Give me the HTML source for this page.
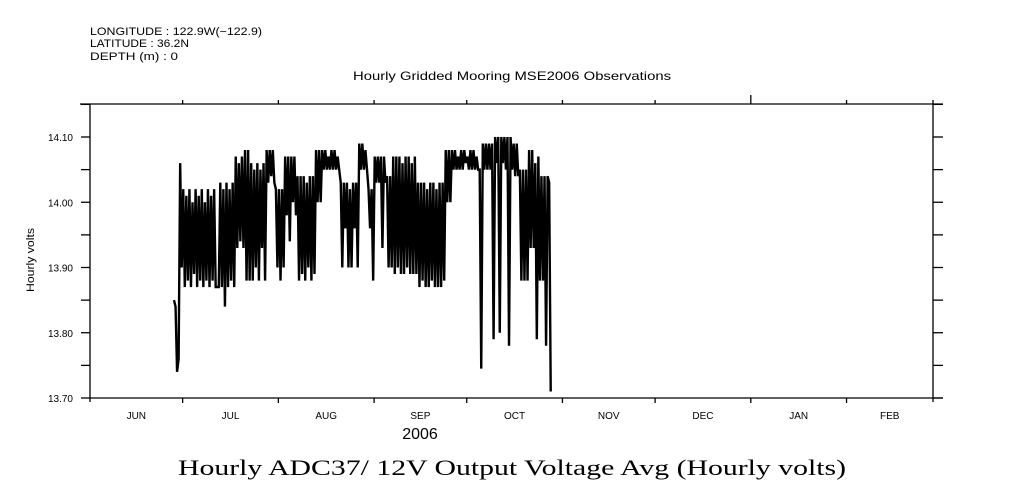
<!DOCTYPE html>
<html><head><meta charset="utf-8"><style>
html,body{margin:0;padding:0;background:#fff;}
svg{display:block;}
text{font-family:"Liberation Sans",sans-serif;fill:#000;}
</style></head><body>
<svg id="chart" width="1009" height="504" viewBox="0 0 1009 504">
<text x="90" y="35" font-size="11" textLength="172" lengthAdjust="spacingAndGlyphs">LONGITUDE : 122.9W(−122.9)</text>
<text x="90" y="47" font-size="11" textLength="99" lengthAdjust="spacingAndGlyphs">LATITUDE : 36.2N</text>
<text x="90" y="60" font-size="11" textLength="88" lengthAdjust="spacingAndGlyphs">DEPTH (m) : 0</text>
<text x="353" y="80" font-size="12" textLength="318" lengthAdjust="spacingAndGlyphs">Hourly Gridded Mooring MSE2006 Observations</text>
<text transform="translate(34,260) rotate(-90)" font-size="11" text-anchor="middle" textLength="64" lengthAdjust="spacingAndGlyphs">Hourly volts</text>
<text x="420" y="439" font-size="16" text-anchor="middle">2006</text>
<text x="178" y="475" font-size="22" textLength="668" lengthAdjust="spacingAndGlyphs" style="font-family:'Liberation Serif',serif">Hourly ADC37/ 12V Output Voltage Avg (Hourly volts)</text>
<g id="axes"></g>
<path id="series" fill="none" stroke="#000" stroke-width="2.4" stroke-linejoin="miter"></path>
</svg>
<script>
const months = ["JUN","JUL","AUG","SEP","OCT","NOV","DEC","JAN","FEB"];
const monthDays = [30,31,31,30,31,30,31,31,28];
const yTicks = [13.70,13.80,13.90,14.00,14.10];
const yTickLabels = ["13.70","13.80","13.90","14.00","14.10"];
const startDay = 27.2; // days since Jun 1 of first sample
const sampleStep = 0.5; // days between samples
const volts = [
13.85,13.84,13.74,13.76,14.06,13.90,
14.02,13.87,14.01,13.88,14.02,13.87,14.00,13.89,14.02,13.87,14.01,13.88,14.02,13.87,14.00,13.88,14.02,13.87,14.01,13.88,14.02,13.87,
13.87,13.87,
14.03,13.87,14.02,13.84,14.03,13.87,14.02,13.88,14.03,13.87,
14.07,13.93,14.06,13.94,14.07,13.93,
14.08,13.88,14.08,13.88,
14.06,13.88,14.05,13.90,14.06,13.88,14.05,13.93,14.06,13.88,
14.08,14.03,14.08,14.04,14.08,14.03,
14.02,13.90,14.02,13.88,14.02,13.90,
14.07,13.98,14.07,13.94,14.07,14.00,14.07,13.98,
14.04,13.88,14.04,13.89,14.04,13.88,14.03,13.90,14.04,13.88,14.04,13.89,
14.08,14.00,14.08,14.00,
14.08,14.05,14.08,14.05,14.07,14.05,14.08,14.05,14.08,14.05,14.07,14.05,
14.03,13.90,14.03,13.96,14.03,13.90,14.02,13.90,14.03,13.96,14.03,13.90,
14.09,14.05,14.09,14.05,14.08,14.05,
14.02,13.96,14.02,13.88,
14.07,14.03,14.07,14.03,14.07,13.93,14.07,14.03,
14.04,13.90,14.04,13.90,
14.07,13.89,14.07,13.90,14.07,13.89,14.06,13.89,14.07,13.90,14.07,13.89,14.06,13.89,14.07,13.89,
14.03,13.87,14.03,13.88,14.03,13.87,14.02,13.87,14.03,13.88,14.03,13.87,14.02,13.87,14.03,13.87,14.03,13.88,
14.08,14.00,14.08,14.00,
14.08,14.05,14.08,14.05,14.07,14.05,14.08,14.05,14.08,14.06,14.07,14.05,14.08,14.05,14.08,14.05,14.07,14.05,
14.05,13.745,
14.09,14.05,14.09,14.05,14.09,14.05,14.09,13.79,
14.10,14.06,14.10,13.80,14.10,14.06,
14.10,14.05,14.10,13.78,14.10,14.05,
14.09,14.04,14.09,14.04,
14.05,13.88,14.05,13.88,14.05,13.88,
14.08,13.93,14.08,13.93,
14.06,13.79,
14.07,13.88,
14.04,13.88,
14.04,13.78,
14.04,14.03,
13.71
];
const X0=90, X1=933, Y0=104, Y1=398;
const totalDays = monthDays.reduce((a,b)=>a+b,0);
const xScale = d => X0 + d/totalDays*(X1-X0);
const yScale = v => 398 - (v-13.70)/0.1*65.25;
const NS="http://www.w3.org/2000/svg";
const axes=document.getElementById('axes');
function line(x1,y1,x2,y2,name,w){
  const l=document.createElementNS(NS,'line');
  l.setAttribute('x1',x1);l.setAttribute('y1',y1);l.setAttribute('x2',x2);l.setAttribute('y2',y2);
  l.setAttribute('stroke','#000');l.setAttribute('stroke-width',w||1.3);
  
  
  axes.appendChild(l);
}
function txt(x,y,s,anchor,name){
  const t=document.createElementNS(NS,'text');
  t.setAttribute('x',x);t.setAttribute('y',y);t.setAttribute('font-size','10');t.setAttribute('text-anchor',anchor);
  t.textContent=s;
  
  
  axes.appendChild(t);
}
line(80,Y0,943,Y0,'top-axis');
line(X0,Y1,943,Y1,'x-axis');
line(X0,Y0,X0,Y1+4,'y-axis');
line(X1,Y0-4,X1,Y1+4,'right-axis');
for(let v=13.70; v<=14.151; v+=0.05){
  const y=yScale(v);
  line(81,y,X0,y,'y-tick');
  line(X1,y,943,y,'right-y-tick');
}
yTicks.forEach((v,i)=>txt(73,yScale(v)+4,yTickLabels[i],'end','y-tick-label'));
let cum=0;
months.forEach((m,i)=>{
  const xs=xScale(cum), xe=xScale(cum+monthDays[i]);
  if(i>0){
    line(xs,Y1,xs,Y1+5,'x-tick');
    line(xs,Y0,xs,Y0-(m==="JAN"?9:4),'top-x-tick');
  }
  txt((xs+xe)/2,419,m,'middle','month-label');
  cum+=monthDays[i];
});
let d='';
volts.forEach((v,i)=>{
  const x=xScale(startDay+i*sampleStep), y=yScale(v);
  d+=(i?'L':'M')+x.toFixed(2)+' '+y.toFixed(2);
});
document.getElementById('series').setAttribute('d',d);
</script>
</body></html>
